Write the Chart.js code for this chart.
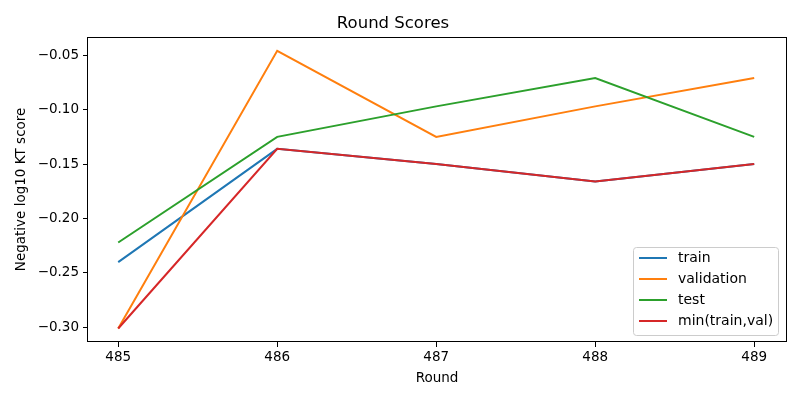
<!DOCTYPE html>
<html>
<head>
<meta charset="utf-8">
<script src="https://cdn.jsdelivr.net/npm/chart.js@4"></script>
<style>
  html, body { margin: 0; padding: 0; background: #fff; }
  #wrap { width: 800px; height: 400px; }
</style>
</head>
<body>
<div id="wrap"><canvas id="scoreChart"></canvas></div>
<script>
const ROUNDS = [485, 486, 487, 488, 489];
const TRAIN = [-0.240, -0.136, -0.150, -0.166, -0.150];
const VALIDATION = [-0.301, -0.046, -0.125, -0.097, -0.071];
const TEST = [-0.222, -0.125, -0.097, -0.071, -0.125];
const MIN_TRAIN_VAL = [-0.301, -0.136, -0.150, -0.166, -0.150];
const Y_TICKS = [-0.30, -0.25, -0.20, -0.15, -0.10, -0.05];

const COLORS = {
    blue: '#1f77b4',
    orange: '#ff7f0e',
    green: '#2ca02c',
    red: '#d62728'
};
const FONT = 'DejaVu Sans';

const toPoints = (values) => ROUNDS.map((r, i) => ({x: r, y: values[i]}));

// order: lower number is drawn on top, like the later lines in matplotlib
const lineSet = (label, values, color, order) => {
    return {
        label: label,
        data: toPoints(values),
        borderColor: color,
        backgroundColor: color,
        borderWidth: 2,
        pointRadius: 0,
        tension: 0,
        order: order
    };
};

// matplotlib style box round the plot area
const frameBox = {
    id: 'frameBox',
    afterDatasetsDraw(chart) {
        const a = chart.chartArea;
        const ctx = chart.ctx;
        ctx.save();
        ctx.strokeStyle = '#000';
        ctx.lineWidth = 1;
        ctx.strokeRect(Math.round(a.left) - 0.5, Math.round(a.top) + 0.5,
            Math.round(a.right - a.left) + 1, Math.round(a.bottom - a.top) - 1);
        ctx.restore();
    }
};

// legend inside the plot, lower right
const innerLegend = {
    id: 'innerLegend',
    afterDraw(chart) {
        const a = chart.chartArea;
        const ctx = chart.ctx;
        const sets = chart.data.datasets;
        const w = 145, rowH = 21, h = sets.length * rowH + 4;
        const x = a.right - 8 - w, y = a.bottom - 7 - h;
        ctx.save();
        ctx.fillStyle = 'rgba(255,255,255,0.8)';
        ctx.strokeStyle = '#cccccc';
        ctx.lineWidth = 1;
        ctx.beginPath();
        ctx.roundRect(x + 0.5, y + 0.5, w, h, 3);
        ctx.fill();
        ctx.stroke();
        ctx.font = '14px "' + FONT + '"';
        ctx.textBaseline = 'middle';
        sets.forEach((ds, i) => {
            const cy = y + 11 + i * rowH;
            ctx.strokeStyle = ds.borderColor;
            ctx.lineWidth = 2;
            ctx.beginPath();
            ctx.moveTo(x + 6, cy);
            ctx.lineTo(x + 34, cy);
            ctx.stroke();
            ctx.fillStyle = '#000';
            ctx.fillText(ds.label, x + 45, cy);
        });
        ctx.restore();
    }
};

new Chart(document.getElementById('scoreChart'), {
    type: 'line',
    data: {
        datasets: [
            lineSet('train', TRAIN, COLORS.blue, 4),
            lineSet('validation', VALIDATION, COLORS.orange, 3),
            lineSet('test', TEST, COLORS.green, 2),
            lineSet('min(train,val)', MIN_TRAIN_VAL, COLORS.red, 1)
        ]
    },
    options: {
        responsive: true,
        maintainAspectRatio: false,
        animation: false,
        layout: {padding: {left: 0, right: 14, top: 0, bottom: 0}},
        plugins: {
            legend: {display: false},
            tooltip: {enabled: false},
            title: {
                display: true,
                text: 'Round Scores',
                color: '#000',
                font: {family: FONT, size: 16.5, weight: 'normal'},
                padding: {top: 14, bottom: 3}
            }
        },
        scales: {
            x: {
                type: 'linear',
                min: 484.81,
                max: 489.2,
                afterBuildTicks: (scale) => { scale.ticks = ROUNDS.map(v => ({value: v})); },
                afterFit: (scale) => { scale.height = 58; },
                grid: {display: true, drawOnChartArea: false, drawTicks: true, tickLength: 5, color: '#000'},
                border: {display: false},
                ticks: {
                    color: '#000',
                    font: {family: FONT, size: 13.5},
                    padding: 2,
                    maxRotation: 0,
                    callback: (v) => String(v)
                },
                title: {
                    display: true,
                    text: 'Round',
                    color: '#000',
                    font: {family: FONT, size: 13.5},
                    padding: {top: 4, bottom: 13}
                }
            },
            y: {
                type: 'linear',
                min: -0.3134,
                max: -0.0331,
                afterBuildTicks: (scale) => { scale.ticks = Y_TICKS.map(v => ({value: v})); },
                afterFit: (scale) => { scale.width = 88; },
                grid: {display: true, drawOnChartArea: false, drawTicks: true, tickLength: 5, color: '#000'},
                border: {display: false},
                ticks: {
                    color: '#000',
                    font: {family: FONT, size: 13.5},
                    padding: 4,
                    callback: (v) => (v < 0 ? '\u2212' : '') + Math.abs(v).toFixed(2)
                },
                title: {
                    display: true,
                    text: 'Negative log10 KT score',
                    color: '#000',
                    font: {family: FONT, size: 13.5},
                    padding: {top: 13, bottom: 4}
                }
            }
        }
    },
    plugins: [frameBox, innerLegend]
});
</script>
</body>
</html>
